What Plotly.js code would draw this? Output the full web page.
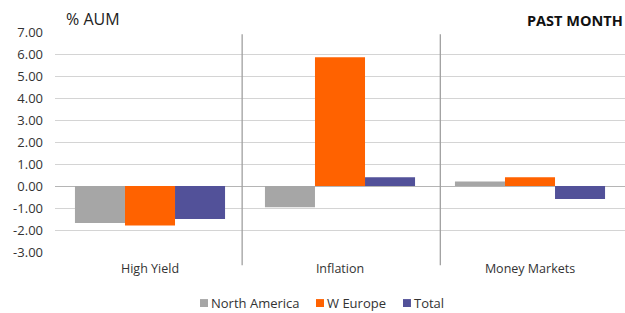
<!DOCTYPE html>
<html><head><meta charset="utf-8">
<script src="https://cdn.plot.ly/plotly-3.0.1.min.js"></script>
<style>body{margin:0;background:#fff}#c{width:625px;height:313px}</style>
</head><body><div id="c"></div>
<script>
const categories = ["High Yield", "Inflation", "Money Markets"];
const seriesNames = ["North America", "W Europe", "Total"];
const seriesColors = ["#a6a6a6", "#ff6200", "#525199"];
const northAmerica = [-1.68, -0.97, 0.21];
const wEurope = [-1.80, 5.85, 0.40];
const total = [-1.50, 0.40, -0.59];
const tickVals = [7, 6, 5, 4, 3, 2, 1, 0, -1, -2, -3];
const tickText = tickVals.map(v => v.toFixed(2));

const font = "'Open Sans', 'Noto Sans', sans-serif";
const series = [northAmerica, wEurope, total];
const data = series.map((y, i) => ({type: 'bar', name: seriesNames[i], x: categories, y,
  marker: {color: seriesColors[i]}}));

// custom legend (square + label) built from series names/colours
const legendSquareX = [0.2544, 0.4579, 0.6105];
const legendShapes = seriesNames.map((n, i) => ({type: 'rect', xref: 'paper', yref: 'paper',
  x0: legendSquareX[i], x1: legendSquareX[i] + 0.014, y0: -0.25, y1: -0.214,
  fillcolor: seriesColors[i], line: {width: 0}}));
const legendAnn = seriesNames.map((n, i) => ({text: n, xref: 'paper', yref: 'paper',
  x: legendSquareX[i] + 0.018, y: -0.232, xanchor: 'left', yanchor: 'middle', showarrow: false,
  borderpad: 0, font: {size: 13, color: '#333'}}));

const layout = {
  width: 625, height: 313,
  margin: {l: 55, r: 0, t: 32, b: 61},
  paper_bgcolor: '#fff', plot_bgcolor: '#fff',
  font: {family: font, size: 12, color: '#333'},
  barmode: 'group', bargap: 0.21, bargroupgap: 0,
  showlegend: false,
  xaxis: {range: [-0.5, 2.5], showgrid: false, zeroline: false, showline: false,
          ticks: '', tickfont: {size: 12.5, color: '#333'}, ticklabelstandoff: 7, fixedrange: true},
  yaxis: {range: [-3, 7], tickvals: tickVals, ticktext: tickText, showgrid: true,
          gridcolor: '#d4d4d4', gridwidth: 1, zeroline: true, zerolinecolor: '#b5b5b5',
          zerolinewidth: 1, tickfont: {size: 13, color: '#333'}, ticks: '',
          ticklabelstandoff: 11, showline: false, fixedrange: true},
  shapes: [
    {type: 'line', xref: 'x', yref: 'paper', x0: 0.485, x1: 0.485, y0: -0.06, y1: 0.99,
     line: {color: '#a0a0a0', width: 1.3}},
    {type: 'line', xref: 'x', yref: 'paper', x0: 1.528, x1: 1.528, y0: -0.06, y1: 0.99,
     line: {color: '#a0a0a0', width: 1.3}}
  ].concat(legendShapes),
  annotations: [
    {text: '% AUM', xref: 'paper', yref: 'paper', x: 0.016, y: 1.0, xanchor: 'left', yanchor: 'bottom',
     showarrow: false, font: {size: 16, color: '#222'}},
    {text: '<b>PAST MONTH</b>', xref: 'paper', yref: 'paper', x: 1, y: 1.0, xanchor: 'right', yanchor: 'bottom',
     showarrow: false, font: {size: 14.5, color: '#111'}}
  ].concat(legendAnn)
};
Plotly.newPlot('c', data, layout, {displayModeBar: false, staticPlot: true});
</script></body></html>
